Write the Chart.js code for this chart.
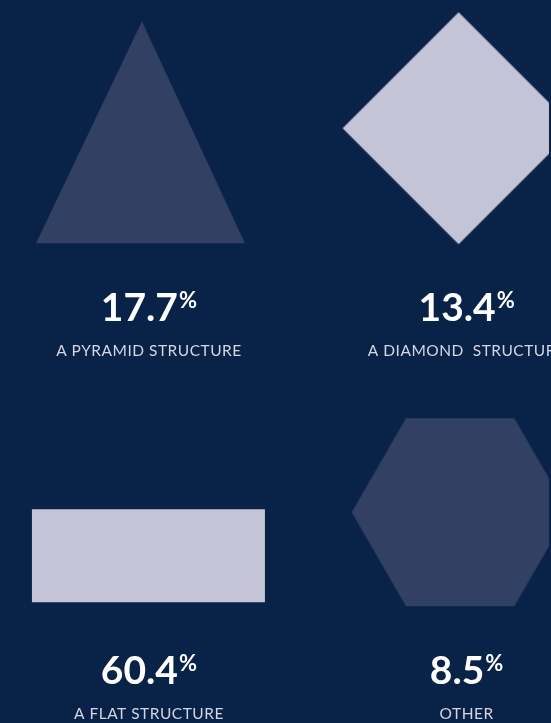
<!DOCTYPE html>
<html>
<head>
<meta charset="utf-8">
<script src="https://cdn.jsdelivr.net/npm/chart.js@4.4.1/dist/chart.umd.min.js"></script>
<style>
  html, body { margin: 0; padding: 0; background: #082248; overflow: hidden; }
  #wrap { width: 551px; height: 723px; position: relative; }
</style>
</head>
<body>
<div id="wrap"><canvas id="c" width="551" height="723"></canvas></div>
<script>
// ---- data ----
const categories = ['A PYRAMID STRUCTURE', 'A DIAMOND  STRUCTURE', 'A FLAT STRUCTURE', 'OTHER'];
const shares = [17.7, 13.4, 60.4, 8.5];
const unit = '%';

// ---- styles (shape geometry relative to each item's text anchor) ----
const BG = '#082248';
const DARK = '#324064';
const LIGHT = '#c3c4d6';
const shapeSpecs = [
  { kind: 'triangle', color: DARK,  pts: [[-7, -300], [-113, -78], [96, -78]] },
  { kind: 'diamond',  color: LIGHT, cx: -8,   cy: -193, r: 116 },
  { kind: 'rect',     color: LIGHT, x0: -117, y0: -175, x1: 116, y1: -82 },
  { kind: 'hexagon',  color: DARK,  cx: -6.5, cy: -172, r: 108.5 }
];

function polygonPoints(s) {
  if (s.kind === 'triangle') return s.pts;
  if (s.kind === 'diamond') return [[s.cx, s.cy - s.r], [s.cx + s.r, s.cy], [s.cx, s.cy + s.r], [s.cx - s.r, s.cy]];
  if (s.kind === 'rect') return [[s.x0, s.y0], [s.x1, s.y0], [s.x1, s.y1], [s.x0, s.y1]];
  const h = s.r * Math.sqrt(3) / 2;
  return [[s.cx - s.r, s.cy], [s.cx - s.r / 2, s.cy - h], [s.cx + s.r / 2, s.cy - h],
          [s.cx + s.r, s.cy], [s.cx + s.r / 2, s.cy + h], [s.cx - s.r / 2, s.cy + h]];
}

// Build an image point style whose centre is the anchor point
function makeStyle(s) {
  const pts = polygonPoints(s);
  let m = 0, n = 0;
  pts.forEach(p => { m = Math.max(m, Math.abs(p[0])); n = Math.max(n, Math.abs(p[1])); });
  const W = Math.ceil(m) * 2 + 4, H = Math.ceil(n) * 2 + 4;
  const cv = document.createElement('canvas');
  cv.width = W; cv.height = H;
  const g = cv.getContext('2d');
  g.fillStyle = s.color;
  g.beginPath();
  pts.forEach((p, i) => { const px = W / 2 + p[0], py = H / 2 + p[1]; i ? g.lineTo(px, py) : g.moveTo(px, py); });
  g.closePath();
  g.fill();
  return cv;
}
const pointStyles = shapeSpecs.map(makeStyle);

const bgPlugin = {
  id: 'bg',
  beforeDraw(chart) {
    const ctx = chart.ctx;
    ctx.save();
    ctx.fillStyle = BG;
    ctx.fillRect(0, 0, chart.width, chart.height);
    ctx.restore();
  }
};

const textPlugin = {
  id: 'texts',
  afterDatasetsDraw(chart) {
    const ctx = chart.ctx;
    const meta = chart.getDatasetMeta(0);
    ctx.save();
    meta.data.forEach((pt, i) => {
      const x = pt.x, y = pt.y;
      const num = shares[i].toFixed(1);
      ctx.letterSpacing = '0px';
      ctx.font = 'bold 39px Lato';
      const wNum = ctx.measureText(num).width;
      ctx.font = 'bold 22px Lato';
      const wPct = ctx.measureText(unit).width;
      const gap = 1;
      const left = x - (wNum + gap + wPct) / 2;
      ctx.textAlign = 'left';
      ctx.textBaseline = 'alphabetic';
      ctx.fillStyle = '#ffffff';
      ctx.font = 'bold 39px Lato';
      ctx.fillText(num, left, y);
      ctx.font = 'bold 22px Lato';
      ctx.fillText(unit, left + wNum + gap, y - 13);
      ctx.font = '15.5px Lato';
      ctx.letterSpacing = '0.5px';
      ctx.fillStyle = '#d4d6e3';
      ctx.textAlign = 'center';
      ctx.fillText(categories[i], x, y + 35);
    });
    ctx.restore();
  }
};

new Chart(document.getElementById('c'), {
  type: 'scatter',
  data: {
    datasets: [{
      data: shares.map((v, i) => ({ x: i % 2, y: Math.floor(i / 2) })),
      pointStyle: pointStyles,
      pointRadius: 1,
      pointHoverRadius: 1,
      backgroundColor: 'rgba(0,0,0,0)',
      borderColor: 'rgba(0,0,0,0)'
    }]
  },
  options: {
    responsive: false,
    animation: false,
    events: [],
    layout: { padding: 0 },
    plugins: { legend: { display: false }, tooltip: { enabled: false }, title: { display: false } },
    scales: {
      x: { type: 'linear', display: false, min: -148 / 320, max: (551 - 148) / 320 },
      y: { type: 'linear', display: false, reverse: true, min: -321 / 365, max: (723 - 321) / 365 }
    }
  },
  plugins: [bgPlugin, textPlugin]
});
</script>
</body>
</html>
